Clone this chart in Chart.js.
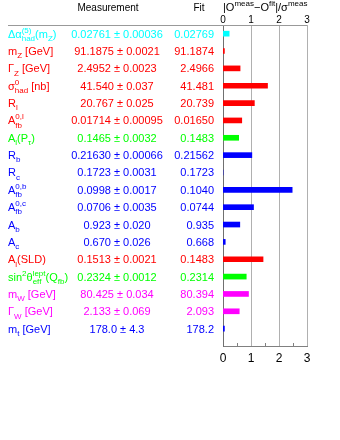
<!DOCTYPE html>
<html><head><meta charset="utf-8">
<script src="https://cdn.jsdelivr.net/npm/chart.js@4"></script>
<style>html,body{margin:0;padding:0;background:#fff}canvas{display:block}</style>
</head><body><canvas id="c" width="340" height="440"></canvas>
<script>
// ---- data ----
const rowLabels = [
  'Δα^{(5)}_{had}(m_{Z})', 'm_{Z} [GeV]', 'Γ_{Z} [GeV]', 'σ^{0}_{had} [nb]', 'R_{l}',
  'A^{0,l}_{fb}', 'A_{l}(P_{τ})', 'R_{b}', 'R_{c}', 'A^{0,b}_{fb}', 'A^{0,c}_{fb}',
  'A_{b}', 'A_{c}', 'A_{l}(SLD)', 'sin^{2}θ^{lept}_{eff}(Q_{fb})', 'm_{W} [GeV]',
  'Γ_{W} [GeV]', 'm_{t} [GeV]'
];
const measValues = ['0.02761','91.1875','2.4952','41.540','20.767','0.01714','0.1465','0.21630','0.1723','0.0998','0.0706','0.923','0.670','0.1513','0.2324','80.425','2.133','178.0'];
const measErrors = ['0.00036','0.0021','0.0023','0.037','0.025','0.00095','0.0032','0.00066','0.0031','0.0017','0.0035','0.020','0.026','0.0021','0.0012','0.034','0.069','4.3'];
const fitValues  = ['0.02769','91.1874','2.4966','41.481','20.739','0.01650','0.1483','0.21562','0.1723','0.1040','0.0744','0.935','0.668','0.1483','0.2314','80.394','2.093','178.2'];
const pulls      = [0.22, 0.05, 0.61, 1.59, 1.12, 0.67, 0.56, 1.03, 0.00, 2.47, 1.09, 0.60, 0.08, 1.43, 0.83, 0.91, 0.58, 0.05];
const axisTicks  = [0, 1, 2, 3];
const minorTicks = [0.5, 1.5, 2.5];
const axisTitle  = '|O^{meas}−O^{fit}|/σ^{meas}';
const headMeas = 'Measurement';
const headFit = 'Fit';

// ---- styles ----
const C = {cy:'#00ffff', r:'#ff0000', g:'#00ff00', b:'#0000ff', m:'#ff00ff'};
const rowColors = [C.cy, C.r, C.r, C.r, C.r, C.r, C.g, C.b, C.b, C.b, C.b, C.b, C.b, C.r, C.g, C.m, C.m, C.b];
const FONT = '"Liberation Sans", Arial, Helvetica, sans-serif';

function parseRich(s){
  const out=[]; let i=0, buf='';
  while(i<s.length){
    const c=s[i];
    if((c==='^'||c==='_') && s[i+1]==='{'){
      if(buf){out.push({t:'n',v:buf});buf='';}
      const end=s.indexOf('}',i);
      const item={t:c==='^'?'sup':'sub',v:s.slice(i+2,end)};
      const prev=out[out.length-1];
      if(prev && prev.t!=='n' && !prev.pair && prev.t!==item.t) prev.pair=item; else out.push(item);
      i=end+1;
    } else {buf+=c;i++;}
  }
  if(buf) out.push({t:'n',v:buf});
  return out;
}
function drawRich(ctx,s,x,y,size,small,color,align){
  const items=parseRich(s);
  const fnt=it=>(it.t==='n'?size:small)+'px '+FONT;
  const w=it=>{ctx.font=fnt(it);return ctx.measureText(it.v).width;};
  const widths=items.map(it=>Math.max(w(it), it.pair?w(it.pair):0));
  const total=widths.reduce((a,b)=>a+b,0);
  let cx = align==='right'? x-total : align==='center'? x-total/2 : x;
  ctx.fillStyle=color; ctx.textBaseline='alphabetic'; ctx.textAlign='left';
  const dr=it=>{ctx.font=fnt(it);const dy=it.t==='sup'?-size*0.45:it.t==='sub'?size*0.3:0;ctx.fillText(it.v,cx,y+dy);};
  items.forEach((it,k)=>{dr(it); if(it.pair) dr(it.pair); cx+=widths[k];});
}

const textPlugin = {
  id:'textPlugin',
  beforeDatasetsDraw(chart){
    const ctx=chart.ctx, xs=chart.scales.x, a=chart.chartArea;
    ctx.save();
    ctx.strokeStyle='#b0b0b0'; ctx.lineWidth=1;
    axisTicks.slice(1).forEach(v=>{const px=Math.round(xs.getPixelForValue(v))+0.5;ctx.beginPath();ctx.moveTo(px,a.top);ctx.lineTo(px,a.bottom);ctx.stroke();});
    ctx.restore();
  },
  afterDraw(chart){
    const ctx=chart.ctx, ys=chart.scales.y, xs=chart.scales.x, a=chart.chartArea;
    ctx.save();
    // header line
    ctx.strokeStyle='#999'; ctx.lineWidth=1;
    ctx.beginPath(); ctx.moveTo(8,a.top+0.5); ctx.lineTo(a.right,a.top+0.5); ctx.stroke();
    // minor ticks
    ctx.strokeStyle='#808080';
    minorTicks.forEach(v=>{const px=Math.round(xs.getPixelForValue(v))+0.5;ctx.beginPath();ctx.moveTo(px,a.bottom);ctx.lineTo(px,a.bottom-3);ctx.stroke();});
    // headers
    ctx.fillStyle='#000'; ctx.font='10px '+FONT; ctx.textBaseline='alphabetic'; ctx.textAlign='center';
    ctx.fillText(headMeas,108,11);
    ctx.fillText(headFit,199,11);
    drawRich(ctx,axisTitle,a.left,11,11,8,'#000','left');
    // rows
    rowLabels.forEach((lab,i)=>{
      const yc=ys.getPixelForValue(i);
      const col=rowColors[i];
      drawRich(ctx,lab,8,yc+4,11,8,col,'left');
      ctx.fillStyle=col; ctx.font='11px '+FONT; ctx.textBaseline='alphabetic';
      ctx.textAlign='center'; ctx.fillText(measValues[i]+' ± '+measErrors[i],117,yc+4);
      ctx.textAlign='right'; ctx.fillText(fitValues[i],214,yc+4);
    });
    ctx.restore();
  }
};

new Chart(document.getElementById('c'),{
  type:'bar',
  data:{datasets:[{data:pulls.map((p,i)=>({x:p,y:i})),backgroundColor:rowColors,barThickness:5,borderWidth:0}]},
  options:{
    indexAxis:'y', responsive:false, animation:false, devicePixelRatio:1,
    layout:{padding:{left:0,right:33,top:0,bottom:0}},
    plugins:{legend:{display:false},tooltip:{enabled:false}},
    scales:{
      x:{type:'linear',position:'bottom',min:0,max:3,
        afterBuildTicks(s){s.ticks=axisTicks.map(v=>({value:v}));},
        ticks:{font:{size:12,family:FONT},color:'#000',padding:5},
        grid:{display:false,drawTicks:false},
        border:{display:true,color:'#808080'},
        afterFit(s){s.height=94;}},
      x2:{type:'linear',position:'top',min:0,max:3,
        afterBuildTicks(s){s.ticks=axisTicks.map(v=>({value:v}));},
        ticks:{font:{size:10,family:FONT},color:'#000',padding:-1},
        grid:{display:false,drawTicks:false},
        border:{display:false},
        afterFit(s){s.height=25;}},
      y:{type:'linear',reverse:true,min:-0.5,max:18,offset:false,
        ticks:{display:false},grid:{display:false,drawTicks:false,offset:false},
        border:{color:'#707070'},
        afterFit(s){s.width=223;}}
    }
  },
  plugins:[textPlugin]
});
</script></body></html>
